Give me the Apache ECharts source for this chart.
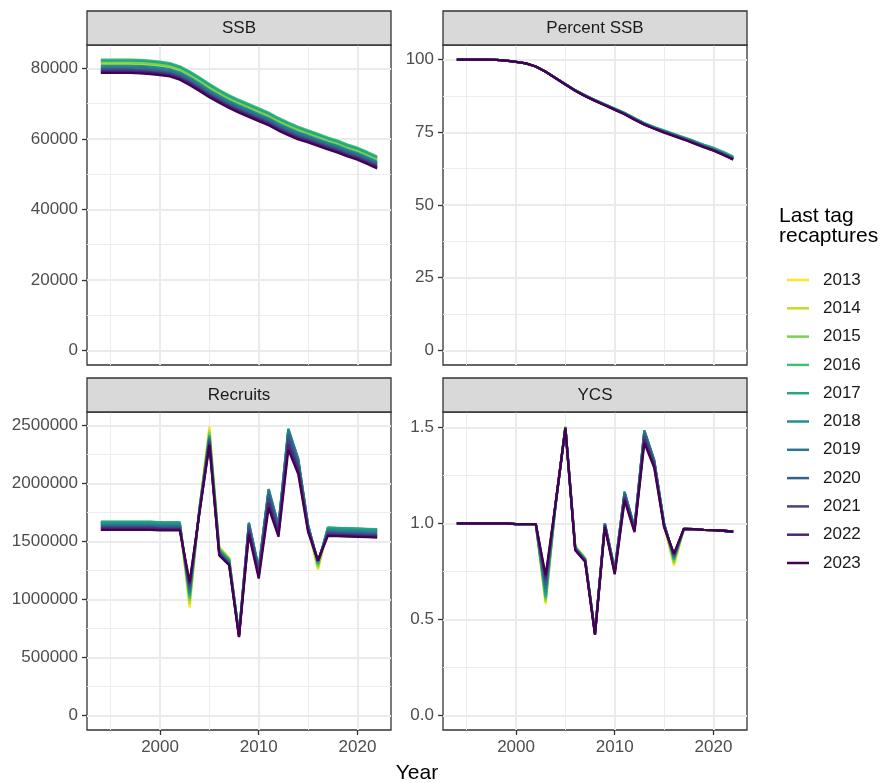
<!DOCTYPE html>
<html>
<head>
<meta charset="utf-8">
<script src="https://cdn.jsdelivr.net/npm/echarts@6/dist/echarts.min.js"></script>
<style>
  html, body { margin: 0; padding: 0; background: #ffffff; }
  #chart { width: 881px; height: 783px; }
</style>
</head>
<body>
<div id="chart"></div>
<script>
// Model years shown on the x axis
const years = [1994,1995,1996,1997,1998,1999,2000,2001,2002,2003,2004,2005,2006,2007,2008,
               2009,2010,2011,2012,2013,2014,2015,2016,2017,2018,2019,2020,2021,2022];

// Last year of tag recaptures used in each model run
const tagYears = ['2013','2014','2015','2016','2017','2018','2019','2020','2021','2022','2023'];
const tagColors = ['#FDE725','#BBDF27','#7AD151','#43BF71','#22A884','#21908C',
                   '#2A788E','#35608D','#414487','#482576','#440154'];

// Spawning stock biomass (t)
const ssb2013 = [81300,81300,81300,81300,81200,81000,80700,80300,79400,77900,76200,74400,72700,71200,69900,68700,67500,66300,64800,63500,62300,61300,60300,59300,58400,57300,56400,55200,53900];
const ssb2014 = [81900,81900,81900,81900,81800,81600,81300,80900,80000,78500,76800,75000,73250,71750,70450,69250,68050,66850,65350,64050,62850,61800,60800,59800,58900,57800,56900,55700,54400];
const ssb2015 = [81600,81600,81600,81600,81500,81300,81000,80600,79700,78200,76500,74700,72950,71450,70150,68950,67750,66550,65050,63750,62550,61500,60500,59500,58600,57500,56600,55400,54100];
const ssb2016 = [82500,82500,82500,82500,82400,82200,81900,81500,80600,79100,77400,75600,73850,72350,71050,69850,68650,67450,65950,64650,63450,62400,61400,60400,59500,58400,57500,56300,55000];
const ssb2017 = [82200,82200,82200,82200,82100,81900,81600,81200,80300,78800,77100,75300,73550,72050,70750,69550,68350,67150,65650,64350,63150,62100,61100,60100,59200,58100,57200,56000,54700];
const ssb2018 = [80800,80800,80800,80800,80700,80500,80200,79800,78900,77400,75700,73900,72250,70750,69450,68250,67050,65850,64350,63050,61850,60900,59900,58900,58000,56900,56000,54800,53500];
const ssb2019 = [80300,80300,80300,80300,80200,80000,79700,79300,78400,76900,75200,73400,71800,70300,69000,67800,66600,65400,63900,62600,61400,60500,59500,58500,57600,56500,55600,54400,53100];
const ssb2020 = [79800,79800,79800,79800,79700,79500,79200,78800,77900,76400,74700,72900,71350,69850,68550,67350,66150,64950,63450,62150,60950,60100,59100,58100,57200,56100,55200,54000,52700];
const ssb2021 = [79400,79400,79400,79400,79300,79100,78800,78400,77500,76000,74300,72500,70950,69450,68150,66950,65750,64550,63050,61750,60550,59700,58700,57700,56800,55700,54800,53600,52300];
const ssb2022 = [79100,79100,79100,79100,79000,78800,78500,78100,77200,75700,74000,72200,70650,69150,67850,66650,65450,64250,62750,61450,60250,59400,58400,57400,56500,55400,54500,53300,52000];
const ssb2023 = [78700,78700,78700,78700,78600,78400,78100,77700,76800,75300,73600,71800,70250,68750,67450,66250,65050,63850,62350,61050,59850,59000,58000,57000,56100,55000,54100,52900,51600];

// SSB as a percentage of initial SSB
const pct2013 = [100,100,100,100,99.9,99.6,99.2,98.7,97.6,95.8,93.7,91.5,89.4,87.6,86.0,84.5,83.0,81.5,79.7,78.0,76.6,75.4,74.2,73.0,71.8,70.5,69.3,67.9,66.3];
const pct2014 = [100,100,100,100,99.9,99.6,99.2,98.7,97.6,95.8,93.7,91.5,89.4,87.6,86.0,84.5,83.0,81.5,79.8,78.1,76.7,75.5,74.3,73.1,71.9,70.6,69.4,68.0,66.4];
const pct2015 = [100,100,100,100,99.9,99.6,99.2,98.7,97.6,95.8,93.7,91.5,89.4,87.6,86.0,84.5,83.0,81.5,79.7,78.0,76.6,75.4,74.2,73.0,71.8,70.5,69.3,67.9,66.3];
const pct2016 = [100,100,100,100,99.9,99.6,99.2,98.7,97.6,95.8,93.7,91.6,89.5,87.7,86.1,84.6,83.2,81.7,79.9,78.2,76.8,75.7,74.5,73.3,72.1,70.8,69.7,68.3,66.7];
const pct2017 = [100,100,100,100,99.9,99.6,99.2,98.7,97.6,95.8,93.7,91.5,89.4,87.7,86.1,84.6,83.1,81.6,79.8,78.1,76.7,75.5,74.3,73.2,72.0,70.7,69.5,68.1,66.5];
const pct2018 = [100,100,100,100,99.9,99.6,99.2,98.7,97.6,95.8,93.7,91.5,89.4,87.6,86.0,84.5,83.0,81.5,79.7,77.9,76.5,75.3,74.1,72.9,71.7,70.4,69.2,67.8,66.2];
const pct2019 = [100,100,100,100,99.9,99.6,99.2,98.7,97.6,95.8,93.7,91.5,89.4,87.6,85.9,84.4,82.9,81.4,79.6,77.9,76.5,75.3,74.1,72.9,71.6,70.3,69.1,67.7,66.1];
const pct2020 = [100,100,100,100,99.9,99.6,99.2,98.7,97.6,95.8,93.7,91.5,89.3,87.5,85.9,84.4,82.9,81.4,79.5,77.8,76.4,75.2,74.0,72.8,71.6,70.2,69.0,67.6,66.0];
const pct2021 = [100,100,100,100,99.9,99.6,99.2,98.7,97.6,95.8,93.7,91.4,89.3,87.5,85.9,84.4,82.8,81.3,79.5,77.8,76.4,75.1,73.9,72.7,71.5,70.2,68.9,67.5,65.9];
const pct2022 = [100,100,100,100,99.9,99.6,99.2,98.7,97.6,95.8,93.6,91.4,89.3,87.5,85.8,84.3,82.8,81.2,79.4,77.7,76.2,75.0,73.8,72.6,71.3,70.0,68.8,67.3,65.7];
const pct2023 = [100,100,100,100,99.9,99.6,99.2,98.7,97.6,95.8,93.6,91.4,89.3,87.4,85.8,84.3,82.7,81.2,79.3,77.6,76.2,74.9,73.7,72.5,71.2,69.9,68.7,67.2,65.6];

// Recruitment (numbers)
const rec2013 = [1650000,1650000,1650000,1650000,1650000,1650000,1645000,1645000,1645000,930000,1790000,2490000,1450000,1360000,690000,1615000,1230000,1878000,1595000,2389000,2150000,1613000,1255000,1600000,1597000,1594000,1591000,1588000,1585000];
const rec2014 = [1655000,1655000,1655000,1655000,1655000,1655000,1650000,1650000,1650000,960000,1785000,2460000,1445000,1355000,690000,1625000,1238000,1894000,1605000,2407000,2165000,1619000,1270000,1605000,1602000,1599000,1596000,1593000,1590000];
const rec2015 = [1660000,1660000,1660000,1660000,1660000,1660000,1655000,1655000,1655000,990000,1782000,2440000,1440000,1350000,692000,1635000,1248000,1910000,1615000,2425000,2178000,1625000,1285000,1610000,1607000,1604000,1601000,1598000,1595000];
const rec2016 = [1670000,1670000,1670000,1670000,1670000,1670000,1665000,1665000,1665000,1010000,1785000,2420000,1430000,1345000,695000,1650000,1260000,1934000,1630000,2452000,2197000,1634000,1300000,1620000,1617000,1614000,1611000,1608000,1605000];
const rec2017 = [1668000,1668000,1668000,1668000,1668000,1668000,1663000,1663000,1663000,1030000,1782000,2410000,1420000,1335000,700000,1660000,1270000,1950000,1640000,2470000,2210000,1640000,1310000,1618000,1615000,1612000,1609000,1606000,1603000];
const rec2018 = [1655000,1655000,1655000,1655000,1655000,1655000,1650000,1650000,1650000,1050000,1775000,2400000,1415000,1330000,700000,1660000,1270000,1950000,1640000,2470000,2210000,1640000,1320000,1605000,1602000,1599000,1596000,1593000,1590000];
const rec2019 = [1640000,1640000,1640000,1640000,1640000,1640000,1635000,1635000,1635000,1070000,1770000,2390000,1410000,1325000,695000,1650000,1260000,1934000,1630000,2452000,2197000,1634000,1325000,1590000,1587000,1584000,1581000,1578000,1575000];
const rec2020 = [1630000,1630000,1630000,1630000,1630000,1630000,1625000,1625000,1625000,1090000,1765000,2380000,1400000,1315000,690000,1635000,1248000,1910000,1615000,2425000,2178000,1625000,1330000,1578000,1575000,1572000,1569000,1566000,1563000];
const rec2021 = [1620000,1620000,1620000,1620000,1620000,1620000,1615000,1615000,1615000,1110000,1760000,2360000,1395000,1310000,685000,1610000,1225000,1870000,1590000,2380000,2145000,1610000,1332000,1568000,1565000,1562000,1559000,1556000,1553000];
const rec2022 = [1610000,1610000,1610000,1610000,1610000,1610000,1605000,1605000,1605000,1130000,1755000,2345000,1388000,1300000,680000,1585000,1203000,1830000,1565000,2335000,2113000,1595000,1334000,1558000,1555000,1552000,1549000,1546000,1543000];
const rec2023 = [1600000,1600000,1600000,1600000,1600000,1600000,1595000,1595000,1595000,1150000,1750000,2330000,1380000,1295000,675000,1560000,1180000,1790000,1540000,2290000,2080000,1580000,1335000,1548000,1545000,1542000,1539000,1536000,1533000];

// Year class strength
const ycs2013 = [1,1,1,1,1,1,0.997,0.997,0.997,0.58,1.09,1.505,0.88,0.82,0.428,0.991,0.749,1.145,0.969,1.456,1.312,0.991,0.78,0.972,0.970,0.967,0.965,0.962,0.958];
const ycs2014 = [1,1,1,1,1,1,0.997,0.997,0.997,0.59,1.09,1.504,0.88,0.82,0.428,0.993,0.751,1.149,0.971,1.462,1.316,0.993,0.79,0.972,0.970,0.967,0.965,0.962,0.958];
const ycs2015 = [1,1,1,1,1,1,0.997,0.997,0.997,0.60,1.09,1.503,0.878,0.818,0.429,0.995,0.754,1.154,0.974,1.469,1.32,0.995,0.80,0.972,0.970,0.967,0.965,0.962,0.958];
const ycs2016 = [1,1,1,1,1,1,0.997,0.997,0.997,0.61,1.095,1.502,0.876,0.816,0.43,0.998,0.758,1.16,0.978,1.479,1.326,0.998,0.81,0.972,0.970,0.967,0.965,0.962,0.958];
const ycs2017 = [1,1,1,1,1,1,0.997,0.997,0.997,0.62,1.095,1.501,0.874,0.814,0.43,1.0,0.76,1.165,0.98,1.485,1.33,1.0,0.815,0.972,0.970,0.967,0.965,0.962,0.958];
const ycs2018 = [1,1,1,1,1,1,0.997,0.997,0.997,0.64,1.095,1.50,0.872,0.812,0.43,1.0,0.76,1.165,0.98,1.485,1.33,1.0,0.82,0.972,0.970,0.967,0.965,0.962,0.958];
const ycs2019 = [1,1,1,1,1,1,0.997,0.997,0.997,0.66,1.10,1.499,0.87,0.81,0.429,0.998,0.758,1.16,0.978,1.479,1.326,0.998,0.825,0.972,0.970,0.967,0.965,0.962,0.958];
const ycs2020 = [1,1,1,1,1,1,0.997,0.997,0.997,0.68,1.10,1.498,0.868,0.808,0.427,0.995,0.754,1.154,0.974,1.469,1.32,0.995,0.83,0.972,0.970,0.967,0.965,0.962,0.958];
const ycs2021 = [1,1,1,1,1,1,0.997,0.997,0.997,0.70,1.10,1.497,0.865,0.806,0.425,0.99,0.748,1.143,0.968,1.453,1.31,0.99,0.835,0.972,0.970,0.967,0.965,0.962,0.958];
const ycs2022 = [1,1,1,1,1,1,0.997,0.997,0.997,0.715,1.10,1.496,0.862,0.803,0.422,0.985,0.741,1.131,0.961,1.436,1.30,0.985,0.84,0.972,0.970,0.967,0.965,0.962,0.958];
const ycs2023 = [1,1,1,1,1,1,0.997,0.997,0.997,0.73,1.10,1.495,0.86,0.80,0.42,0.98,0.735,1.12,0.955,1.42,1.29,0.98,0.843,0.972,0.970,0.967,0.965,0.962,0.958];

// Axis breaks
const xTicks = [2000, 2010, 2020];
const ssbTicks = [0, 20000, 40000, 60000, 80000];
const pctTicks = [0, 25, 50, 75, 100];
const recTicks = [0, 500000, 1000000, 1500000, 2000000, 2500000];
const ycsTicks = [0, 0.5, 1.0, 1.5];

const panels = [
  { title: 'SSB',         rows: [ssb2013,ssb2014,ssb2015,ssb2016,ssb2017,ssb2018,ssb2019,ssb2020,ssb2021,ssb2022,ssb2023],
    ticks: ssbTicks, fmt: v => String(v), box: { left: 87,  top: 45,  width: 304, height: 320 }, bottom: false },
  { title: 'Percent SSB', rows: [pct2013,pct2014,pct2015,pct2016,pct2017,pct2018,pct2019,pct2020,pct2021,pct2022,pct2023],
    ticks: pctTicks, fmt: v => String(v), box: { left: 443, top: 45,  width: 304, height: 320 }, bottom: false },
  { title: 'Recruits',    rows: [rec2013,rec2014,rec2015,rec2016,rec2017,rec2018,rec2019,rec2020,rec2021,rec2022,rec2023],
    ticks: recTicks, fmt: v => String(v), box: { left: 87,  top: 412, width: 304, height: 318 }, bottom: true },
  { title: 'YCS',         rows: [ycs2013,ycs2014,ycs2015,ycs2016,ycs2017,ycs2018,ycs2019,ycs2020,ycs2021,ycs2022,ycs2023],
    ticks: ycsTicks, fmt: v => v.toFixed(1), box: { left: 443, top: 412, width: 304, height: 318 }, bottom: true }
];

const FONT = '"Liberation Sans", Arial, Helvetica, sans-serif';
const STRIP_H = 34;

// 5% expansion on both sides, as ggplot does
const xMin = years[0] - 0.05 * (years[years.length - 1] - years[0]);
const xMax = years[years.length - 1] + 0.05 * (years[years.length - 1] - years[0]);

function midBreaks(ticks, lo, hi) {
  const step = ticks[1] - ticks[0];
  const out = [];
  for (let v = ticks[0] - step / 2; v <= hi; v += step) {
    if (v >= lo) out.push(v);
  }
  return out;
}

const grid = [], xAxis = [], yAxis = [], series = [], graphic = [];

panels.forEach((p, i) => {
  let dMax = -Infinity, dMin = 0;
  p.rows.forEach(r => r.forEach(v => { if (v > dMax) dMax = v; if (v < dMin) dMin = v; }));
  const span = dMax - dMin;
  const yMin = dMin - 0.05 * span, yMax = dMax + 0.05 * span;

  grid.push(Object.assign({ show: true, borderColor: '#333333', borderWidth: 1.3,
                            backgroundColor: '#ffffff', containLabel: false, outerBoundsMode: 'none' }, p.box));

  const xTickOpt = p.bottom
    ? { show: true, customValues: xTicks, length: 5, lineStyle: { color: '#333333', width: 1.3 } }
    : { show: false };
  const xLabelOpt = p.bottom
    ? { show: true, customValues: xTicks, margin: 9, color: '#4D4D4D', fontSize: 17,
        fontFamily: FONT, formatter: v => String(v) }
    : { show: false };

  xAxis.push({
    type: 'value', gridIndex: i, min: xMin, max: xMax, position: 'bottom',
    axisLine: { show: false, onZero: false }, splitLine: { show: false },
    axisTick: xTickOpt, axisLabel: xLabelOpt
  });
  yAxis.push({
    type: 'value', gridIndex: i, min: yMin, max: yMax, position: 'left',
    axisLine: { show: false, onZero: false }, splitLine: { show: false },
    axisTick: { show: true, customValues: p.ticks, length: 5, lineStyle: { color: '#333333', width: 1.3 } },
    axisLabel: { show: true, customValues: p.ticks, margin: 9, color: '#4D4D4D', fontSize: 17,
                 fontFamily: FONT, formatter: p.fmt }
  });

  // panel gridlines (minor first, then major), kept beneath the data lines
  const xMinor = midBreaks(xTicks, xMin, xMax);
  const yMinor = midBreaks(p.ticks, yMin, yMax);
  const minorStyle = { color: '#EDEDED', width: 1, type: 'solid' };
  const majorStyle = { color: '#EBEBEB', width: 2, type: 'solid' };
  const lines = [];
  xMinor.forEach(v => lines.push({ xAxis: v, lineStyle: minorStyle }));
  yMinor.forEach(v => lines.push({ yAxis: v, lineStyle: minorStyle }));
  xTicks.forEach(v => lines.push({ xAxis: v, lineStyle: majorStyle }));
  p.ticks.forEach(v => lines.push({ yAxis: v, lineStyle: majorStyle }));
  series.push({
    type: 'line', xAxisIndex: i, yAxisIndex: i, data: [], silent: true, z: 0,
    markLine: { silent: true, z: 0, zlevel: 0, symbol: ['none', 'none'], label: { show: false },
                animation: false, emphasis: { disabled: true }, data: lines }
  });

  p.rows.forEach((row, k) => {
    series.push({
      name: tagYears[k], type: 'line', xAxisIndex: i, yAxisIndex: i,
      data: years.map((y, j) => [y, row[j]]),
      showSymbol: false, symbol: 'none', z: 3, animation: false, silent: true,
      color: tagColors[k],
      lineStyle: { color: tagColors[k], width: 2.3 }
    });
  });

  // facet strip
  const b = p.box;
  graphic.push({
    type: 'rect', silent: true, z: 10,
    shape: { x: b.left, y: b.top - STRIP_H, width: b.width, height: STRIP_H },
    style: { fill: '#D9D9D9', stroke: '#333333', lineWidth: 1.3 }
  });
  graphic.push({
    type: 'text', silent: true, z: 11,
    x: b.left + b.width / 2, y: b.top - STRIP_H / 2,
    style: { text: p.title, fill: '#1A1A1A', fontSize: 17, fontFamily: FONT,
             align: 'center', verticalAlign: 'middle' }
  });
});

// axis title and legend title
graphic.push({
  type: 'text', silent: true, x: 417, y: 773,
  style: { text: 'Year', fill: '#000000', fontSize: 21, fontFamily: FONT, align: 'center', verticalAlign: 'middle' }
});
graphic.push({
  type: 'text', silent: true, x: 779, y: 216,
  style: { text: 'Last tag', fill: '#000000', fontSize: 21, fontFamily: FONT, align: 'left', verticalAlign: 'middle' }
});
graphic.push({
  type: 'text', silent: true, x: 779, y: 236,
  style: { text: 'recaptures', fill: '#000000', fontSize: 21, fontFamily: FONT, align: 'left', verticalAlign: 'middle' }
});

const chart = echarts.init(document.getElementById('chart'), null, { renderer: 'canvas' });
chart.setOption({
  backgroundColor: '#ffffff',
  animation: false,
  grid, xAxis, yAxis, series, graphic,
  legend: {
    data: tagYears, orient: 'vertical', left: 782, top: 265,
    icon: 'rect', itemWidth: 22, itemHeight: 2.5, itemGap: 8.3,
    selectedMode: false,
    textStyle: { fontSize: 17, fontFamily: FONT, color: '#1A1A1A', lineHeight: 20, padding: [0, 0, 0, 9] }
  }
});
</script>
</body>
</html>
